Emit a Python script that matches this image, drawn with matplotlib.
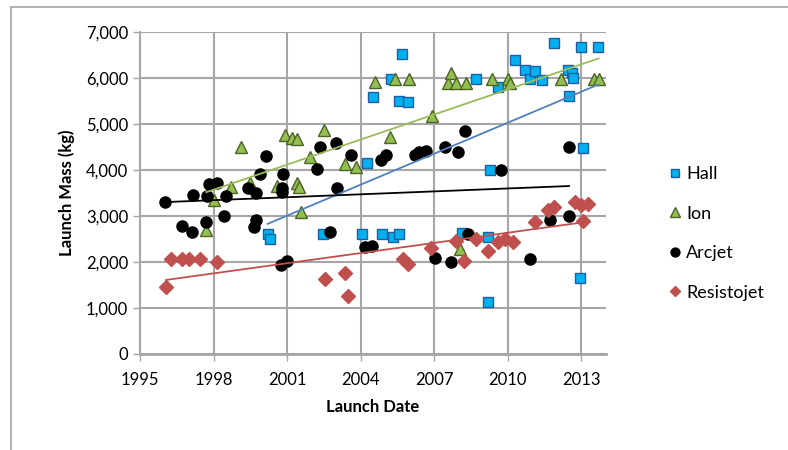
import numpy as np
import matplotlib.pyplot as plt
from matplotlib.lines import Line2D

plt.rcParams['font.family'] = ['Lato', 'DejaVu Sans']

# launch date (decimal year) and launch mass (kg)
hall_x = [2000.2, 2000.3, 2002.47, 2004.05, 2004.26, 2004.5, 2004.88, 2005.25, 2005.3,
          2005.55, 2005.56, 2005.68, 2005.93, 2008.14, 2008.7, 2009.2, 2009.2, 2009.26,
          2009.6, 2010.3, 2010.7, 2010.9, 2011.1, 2011.4, 2011.9, 2012.45, 2012.5,
          2012.6, 2012.65, 2012.95, 2012.99, 2013.06, 2013.67]
hall_y = [2600, 2500, 2600, 2600, 4150, 5590, 2600, 5980, 2540,
          2600, 5510, 6520, 5470, 2620, 5980, 2540, 1140, 4000,
          5810, 6400, 6170, 5980, 6160, 5960, 6750, 6170, 5610,
          6100, 6010, 1650, 6670, 4470, 6670]

ion_x = [1997.7, 1998.0, 1998.7, 1999.1, 1999.5, 2000.6, 2000.9, 2001.2, 2001.4,
         2001.4, 2001.5, 2001.56, 2001.95, 2002.5, 2003.35, 2003.8, 2004.6, 2005.2,
         2005.4, 2005.96, 2006.9, 2007.56, 2007.7, 2007.87, 2008.06, 2008.3, 2009.36,
         2010.0, 2010.1, 2012.17, 2013.5, 2013.7]
ion_y = [2700, 3350, 3640, 4490, 3710, 3660, 4760, 4690, 4670,
         3720, 3640, 3090, 4290, 4870, 4130, 4060, 5910, 4710,
         5980, 5980, 5180, 5900, 6100, 5900, 2280, 5900, 5980,
         5980, 5900, 5980, 5980, 5980]

arc_x = [1996.0, 1996.7, 1997.1, 1997.17, 1997.69, 1997.74, 1997.8, 1998.15, 1998.43,
         1998.5, 1999.41, 1999.65, 1999.72, 1999.75, 1999.9, 2000.15, 2000.74, 2000.8,
         2000.8, 2000.84, 2001.0, 2002.2, 2002.33, 2002.74, 2003.0, 2003.03, 2003.6,
         2004.16, 2004.46, 2004.84, 2005.04, 2006.2, 2006.38, 2006.67, 2007.02, 2007.42,
         2007.7, 2007.97, 2008.24, 2008.37, 2009.7, 2010.9, 2011.7, 2012.49, 2012.49]
arc_y = [3300, 2790, 2650, 3450, 2860, 3430, 3690, 3720, 3010,
         3430, 3600, 2770, 3510, 2910, 3910, 4300, 1940, 3600,
         3530, 3910, 2020, 4020, 4510, 2650, 4580, 3600, 4330,
         2320, 2350, 4220, 4330, 4330, 4400, 4420, 2080, 4510,
         1990, 4400, 4850, 2610, 4000, 2060, 2910, 4510, 2990]

res_x = [1996.06, 1996.27, 1996.7, 1997.0, 1997.44, 1998.12, 2002.56, 2003.35, 2003.5,
         2005.72, 2005.93, 2006.88, 2007.87, 2008.2, 2008.69, 2009.2, 2009.6, 2009.9,
         2010.2, 2011.09, 2011.63, 2011.86, 2012.72, 2012.99, 2013.08, 2013.26]
res_y = [1450, 2060, 2060, 2060, 2060, 2010, 1620, 1770, 1260,
         2070, 1960, 2300, 2460, 2020, 2490, 2240, 2440, 2510,
         2440, 2860, 3130, 3200, 3310, 3240, 2890, 3260]

series = [
    ('Hall', hall_x, hall_y, 's', '#00b0f0', '#1f5f9f', 6.5, '#4f81bd'),
    ('Ion', ion_x, ion_y, '^', '#92c050', '#4f6228', 8.5, '#9bbb59'),
    ('Arcjet', arc_x, arc_y, 'o', 'black', 'black', 8, 'black'),
    ('Resistojet', res_x, res_y, 'D', '#c0504d', '#c0504d', 7, '#c0504d'),
]

fig = plt.figure(figsize=(7.88, 4.5), dpi=100)
ax = fig.add_axes([140 / 788, 96 / 450, 466 / 788, 322 / 450])

for name, xs, ys, mk, fc, ec, ms, lc in series:
    xs = np.array(xs)
    ys = np.array(ys)
    ax.plot(xs, ys, mk, mfc=fc, mec=ec, ms=ms, mew=1.0, ls='none', zorder=3,
            label=name)
    fit = np.poly1d(np.polyfit(xs, ys, 1))
    lx = np.array([xs.min(), xs.max()])
    ax.plot(lx, fit(lx), color=lc, lw=1.3, zorder=4)

ax.set_xlim(1995, 2014)
ax.set_ylim(0, 7000)
ax.set_xticks(np.arange(1995, 2014, 3))
ax.set_yticks(np.arange(0, 7001, 1000))
ax.yaxis.set_major_formatter(plt.FuncFormatter(lambda v, p: f'{int(v):,}'))
ax.grid(True, color='#a6a6a6', lw=1.5)
ax.set_axisbelow(True)
for s in ['top', 'right']:
    ax.spines[s].set_visible(False)
ax.spines['left'].set_color('#a6a6a6')
ax.spines['bottom'].set_color('#a6a6a6')
ax.spines['left'].set_linewidth(1.5)
ax.spines['bottom'].set_linewidth(2)
ax.tick_params(colors='#a6a6a6', labelcolor='black', labelsize=12, length=5, width=1)
ax.tick_params(axis='x', pad=8)

ax.set_xlabel('Launch Date', fontsize=12, fontweight='bold', labelpad=8)
ax.set_ylabel('Launch Mass (kg)', fontsize=12, fontweight='bold', labelpad=8)

handles = [Line2D([], [], marker=mk, mfc=fc, mec=ec, ms=ms * 0.8, ls='none')
           for name, xs, ys, mk, fc, ec, ms, lc in series]
fig.legend(handles, [s[0] for s in series], loc='upper left',
           bbox_to_anchor=(648 / 788, 1 - 150 / 450), frameon=False,
           fontsize=13, handletextpad=0.0, handlelength=1.2, labelspacing=1.3)

# outer chart border (left and top edges visible)
fig.add_artist(Line2D([11 / 788, 11 / 788], [0, 1 - 7 / 450], color='#a6a6a6', lw=1.2))
fig.add_artist(Line2D([11 / 788, 1], [1 - 7 / 450, 1 - 7 / 450], color='#a6a6a6', lw=1.2))

fig.savefig('out.png', dpi=100)
